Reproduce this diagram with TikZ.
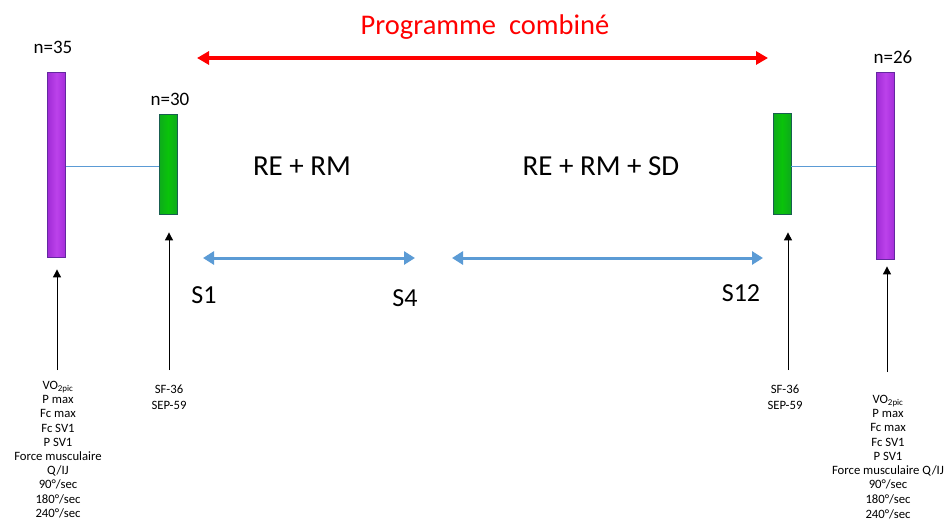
\documentclass[tikz,border=0pt]{standalone}
\usepackage{fontspec}
\setmainfont{Carlito}
\usetikzlibrary{arrows.meta}
\definecolor{purplef}{RGB}{180,45,232}
\definecolor{purpled}{RGB}{100,40,160}
\definecolor{greenf}{RGB}{10,195,10}
\definecolor{greend}{RGB}{25,95,80}
\definecolor{bluel}{RGB}{91,155,213}
\definecolor{redl}{RGB}{255,0,0}
\tikzset{
  purplebar/.style={draw=purpled, line width=0.8pt, left color=purplef!75!purpled, right color=purplef!80!purpled, middle color=purplef!90!white, minimum width=18pt, inner sep=0pt},
  greenbar/.style={draw=greend, line width=0.8pt, left color=greenf!75!greend, right color=greenf!75!greend, middle color=greenf, minimum width=18pt, inner sep=0pt},
  link/.style={draw=bluel, line width=1pt},
  blkarrow/.style={draw=black, line width=1pt, -{Triangle[length=8pt,width=8pt]}},
  bluearrow/.style={draw=bluel, line width=3pt, {Triangle[length=11pt,width=13pt]}-{Triangle[length=11pt,width=13pt]}},
  redarrow/.style={draw=redl, line width=4pt, {Triangle[length=12pt,width=13pt]}-{Triangle[length=12pt,width=13pt]}},
  lbl/.style={font=\fontsize{19}{21}\selectfont, inner sep=0pt},
  big/.style={font=\fontsize{26}{30}\selectfont, inner sep=0pt},
  phase/.style={font=\fontsize{29}{32}\selectfont, inner sep=0pt},
  sm/.style={font=\fontsize{12.7}{14.2}\selectfont, align=center, inner sep=0pt, anchor=north},
}
\begin{document}
\begin{tikzpicture}[x=1pt,y=-1pt]
\useasboundingbox (0,0) rectangle (947,523);
% bars
\node[purplebar, minimum height=185pt] (p1) at (56.5,164.5) {};
\node[greenbar, minimum height=100pt] (g1) at (168,164) {};
\node[greenbar, minimum height=101pt] (g2) at (782,163.5) {};
\node[purplebar, minimum height=187pt] (p2) at (885.5,165.5) {};
% counts
\node[lbl] (n1) at (53,47) {n=35};
\node[lbl] (n2) at (170,99) {n=30};
\node[lbl] (n3) at (893,57) {n=26};
% links
\draw[link] ([yshift=-2pt]p1.east) -- ([yshift=-2pt]p1.east -| g1.west);
\draw[link] ([yshift=-2.5pt]g2.east) -- ([yshift=-2.5pt]g2.east -| p2.west);
% title and red arrow
\node[font=\fontsize{28.5}{32}\selectfont, inner sep=0pt, text=redl] (title) at (485,27) {Programme\ \ combiné};
\coordinate (r1) at (197,58);
\coordinate (r2) at (768,58);
\draw[redarrow] (r1) -- (r2);
% phases
\node[phase] (ph1) at (302,166) {RE + RM};
\node[phase] (ph2) at (601,166) {RE + RM + SD};
\coordinate (b1) at (203,258);
\coordinate (b2) at (415,258);
\coordinate (b3) at (452,258);
\coordinate (b4) at (763,258);
\draw[bluearrow] (b1) -- (b2);
\draw[bluearrow] (b3) -- (b4);
\node[big] (s1) at (204,295) {S1};
\node[big] (s4) at (405,298) {S4};
\node[big] (s12) at (741,293) {S12};
% vertical arrows
\coordinate (a1) at (57,370);
\coordinate (a2) at (169,370);
\coordinate (a3) at (788,370);
\coordinate (a4) at (887,372);
\draw[blkarrow, shorten >=12pt] (a1) -- (a1 |- p1.south);
\draw[blkarrow, shorten >=18pt] (a2) -- (a2 |- g1.south);
\draw[blkarrow, shorten >=18pt] (a3) -- (a3 |- g2.south);
\draw[blkarrow, shorten >=7pt] (a4) -- (a4 |- p2.south);
% lists
\node[sm] (t1) at (58,381) {VO\textsubscript{2pic}\\P max\\Fc max\\Fc SV1\\P SV1\\Force musculaire\\Q/IJ\\90°/sec\\180°/sec\\240°/sec};
\node[sm] (t2) at (169,385) {SF-36\\[2pt]SEP-59};
\node[sm] (t3) at (785,385) {SF-36\\[2pt]SEP-59};
\node[sm] (t4) at (888,395) {VO\textsubscript{2pic}\\P max\\Fc max\\Fc SV1\\P SV1\\Force musculaire Q/IJ\\90°/sec\\[1pt]180°/sec\\240°/sec};
\end{tikzpicture}
\end{document}
